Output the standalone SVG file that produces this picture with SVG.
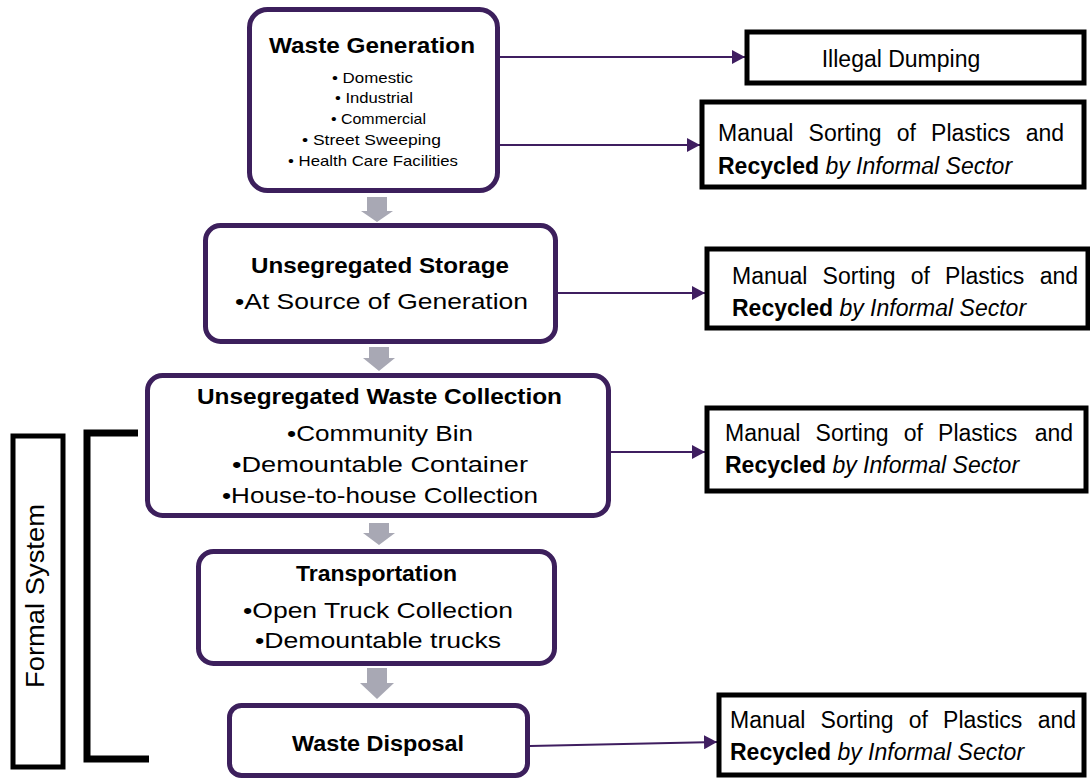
<svg xmlns="http://www.w3.org/2000/svg" width="1090" height="780" viewBox="0 0 1090 780">
<defs>
<style>
.node{fill:#fff;stroke:#3c1f5c;stroke-width:5}
.side{fill:#fff;stroke:#000;stroke-width:5}
.ttl{font-family:"Liberation Sans",Arial,sans-serif;font-weight:bold;font-size:22px;fill:#000;text-anchor:middle}
.bul{font-family:"Liberation Sans",Arial,sans-serif;font-size:22px;fill:#000;text-anchor:middle}
.sm{font-family:"Liberation Sans",Arial,sans-serif;font-size:15px;fill:#000;text-anchor:middle}
.rt{font-family:"Liberation Sans",Arial,sans-serif;font-size:23px;fill:#000}
.conn{stroke:#3f1e60;stroke-width:2;fill:none}
.blk{fill:#a8a8b4}
</style>
<marker id="ah" markerWidth="13" markerHeight="14" refX="13" refY="7" orient="auto" markerUnits="userSpaceOnUse">
<path d="M0,0 L13,7 L0,14 Z" fill="#3f1e60"/>
</marker>
</defs>
<rect width="1090" height="780" fill="#fff"/>

<g id="formal-system">
<rect x="13" y="436" width="50" height="331" fill="#fff" stroke="#000" stroke-width="5"/>
<text transform="translate(44,596) rotate(-90)" font-family="Liberation Sans, Arial, sans-serif" font-size="26" text-anchor="middle" textLength="184" lengthAdjust="spacingAndGlyphs">Formal System</text>
<path d="M138,433 H87 V759 H149" fill="none" stroke="#000" stroke-width="7"/>
</g>

<g id="connectors">
<path class="conn" d="M500,57 H745" marker-end="url(#ah)"/>
<path class="conn" d="M500,145 H700" marker-end="url(#ah)"/>
<path class="conn" d="M558,293 H705" marker-end="url(#ah)"/>
<path class="conn" d="M611,452 H705" marker-end="url(#ah)"/>
<path class="conn" d="M530,746 L717,742" marker-end="url(#ah)"/>
<path class="blk" d="M367,197 H387 V211 H393 L377,222 L361,211 H367 Z"/>
<path class="blk" d="M369,347 H389 V358 H395 L379,371 L363,358 H369 Z"/>
<path class="blk" d="M369,523 H389 V533 H395 L379,545 L363,533 H369 Z"/>
<path class="blk" d="M367,668 H387 V683 H394 L377,699 L360,683 H367 Z"/>
</g>

<g id="waste-generation">
<rect class="node" x="249.5" y="9.5" width="248" height="181" rx="18"/>
<text class="ttl" x="372" y="53" textLength="206" lengthAdjust="spacingAndGlyphs">Waste Generation</text>
<text class="sm" x="372.5" y="83" textLength="81" lengthAdjust="spacingAndGlyphs">• Domestic</text>
<text class="sm" x="374" y="103" textLength="78" lengthAdjust="spacingAndGlyphs">• Industrial</text>
<text class="sm" x="378.5" y="124" textLength="95" lengthAdjust="spacingAndGlyphs">• Commercial</text>
<text class="sm" x="371.5" y="145" textLength="139" lengthAdjust="spacingAndGlyphs">• Street Sweeping</text>
<text class="sm" x="373" y="166" textLength="170" lengthAdjust="spacingAndGlyphs">• Health Care Facilities</text>
</g>

<g id="unsegregated-storage">
<rect class="node" x="205.5" y="225.5" width="350" height="116" rx="15"/>
<text class="ttl" x="380" y="273" textLength="258" lengthAdjust="spacingAndGlyphs">Unsegregated Storage</text>
<text class="bul" x="381.5" y="309" textLength="293" lengthAdjust="spacingAndGlyphs">•At Source of Generation</text>
</g>

<g id="waste-collection">
<rect class="node" x="147.5" y="375.5" width="461" height="140" rx="15"/>
<text class="ttl" x="379.5" y="404" textLength="365" lengthAdjust="spacingAndGlyphs">Unsegregated Waste Collection</text>
<text class="bul" x="380" y="441" textLength="186" lengthAdjust="spacingAndGlyphs">•Community Bin</text>
<text class="bul" x="380" y="472" textLength="296" lengthAdjust="spacingAndGlyphs">•Demountable Container</text>
<text class="bul" x="380" y="503" textLength="316" lengthAdjust="spacingAndGlyphs">•House-to-house Collection</text>
</g>

<g id="transportation">
<rect class="node" x="198.5" y="551.5" width="356" height="112" rx="15"/>
<text class="ttl" x="376.5" y="581" textLength="161" lengthAdjust="spacingAndGlyphs">Transportation</text>
<text class="bul" x="378" y="618" textLength="270" lengthAdjust="spacingAndGlyphs">•Open Truck Collection</text>
<text class="bul" x="378" y="648" textLength="246" lengthAdjust="spacingAndGlyphs">•Demountable trucks</text>
</g>

<g id="waste-disposal">
<rect class="node" x="229.5" y="705.5" width="298" height="70" rx="12"/>
<text class="ttl" x="378" y="751" textLength="172" lengthAdjust="spacingAndGlyphs">Waste Disposal</text>
</g>

<g id="illegal-dumping">
<rect class="side" x="747" y="32" width="337" height="51"/>
<text class="rt" x="901" y="67" text-anchor="middle">Illegal Dumping</text>
</g>

<g id="informal-1">
<rect class="side" x="702" y="102" width="382" height="85"/>
<text class="rt" y="141"><tspan x="718">Manual</tspan><tspan x="808.6">Sorting</tspan><tspan x="896.7">of</tspan><tspan x="931.1">Plastics</tspan><tspan x="1064" text-anchor="end">and</tspan></text>
<text class="rt" x="718" y="174"><tspan font-weight="bold">Recycled</tspan> <tspan font-style="italic">by Informal Sector</tspan></text>
</g>

<g id="informal-2">
<rect class="side" x="707" y="249" width="381" height="79"/>
<text class="rt" y="284"><tspan x="732">Manual</tspan><tspan x="822.6">Sorting</tspan><tspan x="910.7">of</tspan><tspan x="945.1">Plastics</tspan><tspan x="1078" text-anchor="end">and</tspan></text>
<text class="rt" x="732" y="316"><tspan font-weight="bold">Recycled</tspan> <tspan font-style="italic">by Informal Sector</tspan></text>
</g>

<g id="informal-3">
<rect class="side" x="707" y="408" width="379" height="83"/>
<text class="rt" y="441"><tspan x="725">Manual</tspan><tspan x="815.6">Sorting</tspan><tspan x="903.7">of</tspan><tspan x="938.1">Plastics</tspan><tspan x="1073" text-anchor="end">and</tspan></text>
<text class="rt" x="725" y="473"><tspan font-weight="bold">Recycled</tspan> <tspan font-style="italic">by Informal Sector</tspan></text>
</g>

<g id="informal-4">
<rect class="side" x="719" y="695" width="365" height="80"/>
<text class="rt" y="728"><tspan x="730">Manual</tspan><tspan x="820.6">Sorting</tspan><tspan x="908.7">of</tspan><tspan x="943.1">Plastics</tspan><tspan x="1076" text-anchor="end">and</tspan></text>
<text class="rt" x="730" y="760"><tspan font-weight="bold">Recycled</tspan> <tspan font-style="italic">by Informal Sector</tspan></text>
</g>
</svg>
